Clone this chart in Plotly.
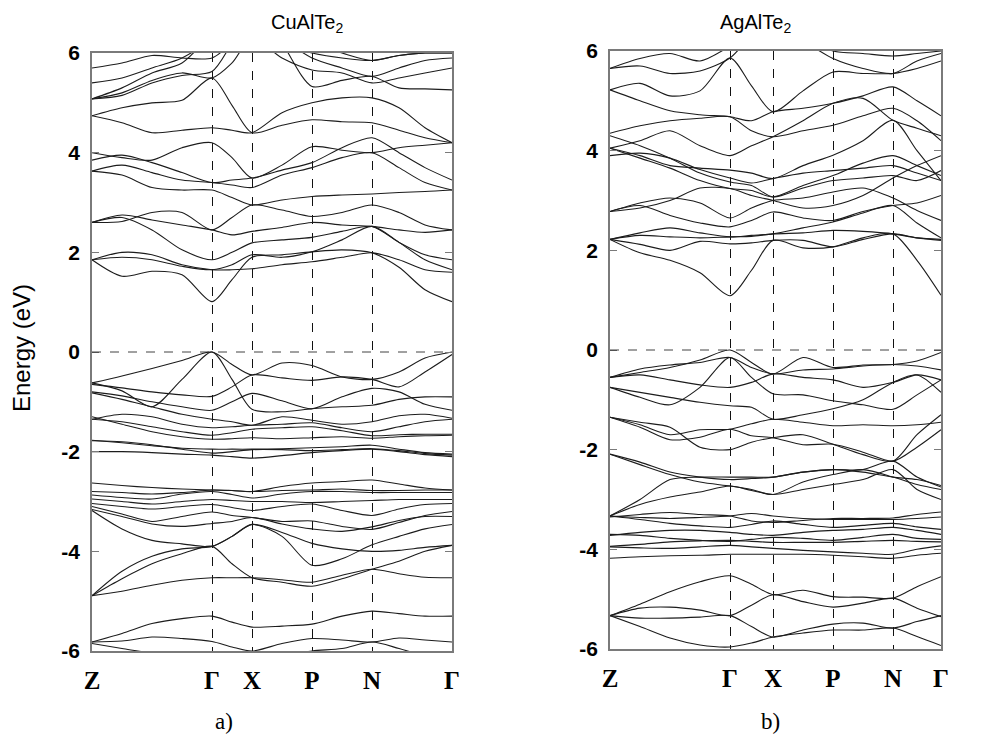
import plotly.graph_objects as go

# ---------------- data ----------------
KPOINT_LABELS = ["Z", "Γ", "X", "P", "N", "Γ"]
KPOINTS_LEFT = [0, 120, 160, 220, 280, 360]
KPOINTS_RIGHT = [0, 120, 163, 223, 283, 331]

K_LEFT = [0, 30, 60, 90, 120, 140, 160, 190, 220, 250, 280, 307, 333, 360]
K_RIGHT = [0, 30, 60, 90, 120, 141.5, 163, 193, 223, 253, 283, 307, 331]

ENERGY_TICKS = [-6, -4, -2, 0, 2, 4, 6]

CUALTE2_BANDS = [
    [-5.82, -5.65, -5.45, -5.35, -5.30, -5.42, -5.52, -5.50, -5.46, -5.30, -5.20, -5.25, -5.30, -5.30],
    [-5.82, -5.80, -5.72, -5.75, -5.81, -5.92, -6.00, -5.85, -5.75, -5.78, -5.82, -5.74, -5.78, -5.82],
    [-5.85, -5.95, -6.05, -6.20, -6.30, -6.30, -6.20, -6.10, -6.00, -5.95, -5.82, -5.95, -6.10, -6.20],
    [-4.89, -4.80, -4.68, -4.58, -4.53, -4.53, -4.53, -4.57, -4.62, -4.48, -4.36, -4.45, -4.52, -4.53],
    [-4.89, -4.55, -4.25, -4.05, -3.90, -4.25, -4.53, -4.62, -4.70, -4.55, -4.36, -4.20, -4.00, -3.88],
    [-4.89, -4.40, -4.10, -3.95, -3.90, -3.70, -3.46, -3.62, -3.84, -3.95, -4.00, -3.98, -3.92, -3.88],
    [-3.18, -3.55, -3.78, -3.85, -3.90, -3.70, -3.46, -3.70, -4.28, -4.15, -3.87, -3.70, -3.55, -3.46],
    [-3.16, -3.30, -3.45, -3.50, -3.44, -3.40, -3.32, -3.45, -3.55, -3.60, -3.51, -3.38, -3.30, -3.30],
    [-3.10, -3.25, -3.40, -3.30, -3.21, -3.28, -3.32, -3.40, -3.39, -3.50, -3.56, -3.42, -3.28, -3.20],
    [-3.04, -3.10, -3.15, -3.10, -3.06, -3.12, -3.18, -3.10, -3.05, -3.18, -3.28, -3.15, -3.06, -3.04],
    [-2.95, -3.00, -3.05, -3.00, -2.96, -2.98, -3.00, -3.00, -3.02, -3.00, -2.98, -2.96, -2.96, -2.96],
    [-2.87, -2.92, -2.95, -2.85, -2.80, -2.86, -2.93, -2.85, -2.80, -2.80, -2.82, -2.82, -2.82, -2.82],
    [-2.80, -2.82, -2.85, -2.82, -2.77, -2.78, -2.80, -2.78, -2.77, -2.75, -2.78, -2.78, -2.77, -2.77],
    [-2.63, -2.68, -2.72, -2.75, -2.77, -2.78, -2.80, -2.70, -2.63, -2.60, -2.57, -2.65, -2.73, -2.77],
    [-1.77, -1.82, -1.88, -1.93, -1.95, -1.95, -1.95, -1.94, -1.92, -1.90, -1.87, -1.95, -2.02, -2.05],
    [-2.00, -2.00, -2.02, -2.05, -2.07, -2.10, -2.13, -2.08, -2.02, -1.98, -1.95, -2.00, -2.06, -2.10],
    [-1.78, -1.80, -1.86, -1.95, -2.03, -2.00, -1.96, -1.96, -1.98, -1.96, -1.94, -1.98, -2.04, -2.07],
    [-0.62, -0.48, -0.33, -0.17, 0.00, -0.25, -0.46, -0.22, -0.27, -0.50, -0.55, -0.40, -0.12, 0.00],
    [-0.62, -0.78, -1.10, -0.55, 0.00, -0.55, -1.15, -1.20, -1.14, -1.10, -1.07, -0.95, -0.90, -0.90],
    [-0.65, -0.72, -0.80, -0.86, -0.89, -0.70, -0.46, -0.52, -0.57, -0.50, -0.55, -0.70, -0.40, -0.05],
    [-0.80, -0.88, -1.00, -1.10, -1.17, -1.00, -0.83, -0.98, -1.14, -0.90, -0.73, -0.80, -1.05, -1.17],
    [-0.82, -0.95, -1.10, -1.25, -1.35, -1.40, -1.47, -1.30, -1.37, -1.45, -1.40, -1.28, -1.25, -1.33],
    [-1.35, -1.25, -1.30, -1.45, -1.52, -1.50, -1.47, -1.45, -1.42, -1.52, -1.60, -1.50, -1.40, -1.35],
    [-1.35, -1.40, -1.50, -1.60, -1.67, -1.62, -1.55, -1.52, -1.50, -1.58, -1.68, -1.66, -1.65, -1.65],
    [-1.30, -1.45, -1.60, -1.70, -1.75, -1.74, -1.72, -1.74, -1.72, -1.70, -1.73, -1.70, -1.68, -1.67],
    [1.85, 1.52, 1.62, 1.55, 1.01, 1.45, 1.90, 1.95, 2.01, 2.05, 1.99, 1.70, 1.25, 1.01],
    [1.85, 2.00, 1.95, 1.75, 1.65, 1.65, 1.67, 1.75, 1.81, 1.90, 1.99, 1.85, 1.65, 1.60],
    [1.85, 1.90, 1.85, 1.72, 1.65, 1.75, 1.95, 1.90, 2.01, 2.25, 2.52, 2.20, 1.85, 1.65],
    [2.60, 2.70, 2.45, 2.05, 1.85, 2.00, 2.19, 2.25, 2.30, 2.42, 2.52, 2.20, 1.95, 1.85],
    [2.60, 2.75, 2.65, 2.55, 2.45, 2.35, 2.42, 2.50, 2.60, 2.55, 2.52, 2.45, 2.40, 2.45],
    [2.60, 2.62, 2.80, 2.80, 2.45, 2.70, 2.95, 2.85, 2.72, 2.80, 2.95, 2.80, 2.55, 2.45],
    [3.63, 3.55, 3.30, 3.25, 3.25, 3.10, 2.95, 3.05, 3.12, 3.15, 3.17, 3.20, 3.22, 3.25],
    [3.63, 3.75, 3.60, 3.45, 3.40, 3.35, 3.30, 3.55, 3.70, 3.90, 4.00, 3.70, 3.40, 3.25],
    [3.85, 3.95, 3.80, 3.60, 3.40, 3.45, 3.49, 3.65, 3.80, 4.10, 4.30, 4.00, 3.70, 3.45],
    [4.00, 3.90, 3.85, 4.10, 4.20, 3.90, 3.49, 3.75, 4.12, 4.05, 4.00, 4.10, 4.15, 4.20],
    [4.74, 4.60, 4.40, 4.45, 4.50, 4.45, 4.40, 4.80, 5.00, 5.10, 5.10, 4.90, 4.50, 4.20],
    [4.74, 4.90, 5.00, 5.05, 5.50, 4.95, 4.40, 4.55, 4.66, 4.62, 4.60, 4.45, 4.30, 4.20],
    [5.08, 5.15, 5.40, 5.55, 5.63, 6.20, 6.80, 6.30, 5.90, 5.70, 5.53, 5.70, 5.85, 5.90],
    [5.08, 5.30, 5.60, 5.80, 6.40, 6.80, 7.00, 6.60, 6.20, 6.00, 5.85, 5.95, 6.00, 6.00],
    [5.08, 5.20, 5.45, 5.60, 5.50, 5.80, 6.30, 5.90, 5.66, 5.60, 5.40, 5.50, 5.60, 5.70],
    [5.40, 5.50, 5.70, 5.90, 6.30, 6.80, 7.00, 6.20, 5.33, 5.45, 5.53, 5.30, 5.28, 5.26],
    [5.70, 5.80, 5.95, 5.90, 5.90, 6.20, 6.50, 6.20, 6.00, 5.90, 5.85, 5.95, 6.00, 6.00],
]

AGALTE2_BANDS = [
    [-5.33, -5.10, -4.85, -4.65, -4.53, -4.70, -4.91, -4.82, -4.95, -4.96, -4.98, -4.75, -4.55],
    [-5.33, -5.18, -5.16, -5.22, -5.33, -5.12, -4.91, -5.05, -5.16, -5.08, -4.98, -5.18, -5.35],
    [-5.33, -5.38, -5.38, -5.36, -5.33, -5.55, -5.76, -5.62, -5.50, -5.48, -5.58, -5.45, -5.33],
    [-5.33, -5.55, -5.78, -5.92, -5.96, -5.88, -5.76, -5.68, -5.62, -5.62, -5.58, -5.75, -5.93],
    [-4.18, -4.15, -4.13, -4.12, -4.10, -4.10, -4.10, -4.10, -4.12, -4.15, -4.18, -4.12, -4.08],
    [-3.95, -3.97, -3.98, -3.95, -3.92, -3.95, -3.98, -4.02, -4.05, -4.08, -4.10, -4.00, -3.93],
    [-3.94, -3.90, -3.85, -3.83, -3.82, -3.84, -3.86, -3.86, -3.86, -3.84, -3.82, -3.84, -3.85],
    [-3.70, -3.72, -3.78, -3.82, -3.84, -3.80, -3.76, -3.78, -3.82, -3.76, -3.70, -3.78, -3.80],
    [-3.72, -3.66, -3.62, -3.62, -3.66, -3.70, -3.72, -3.66, -3.62, -3.60, -3.56, -3.62, -3.70],
    [-3.33, -3.40, -3.48, -3.53, -3.56, -3.50, -3.43, -3.50, -3.56, -3.52, -3.48, -3.55, -3.60],
    [-3.33, -3.36, -3.38, -3.36, -3.33, -3.28, -3.33, -3.38, -3.40, -3.40, -3.40, -3.38, -3.35],
    [-3.35, -3.30, -3.26, -3.30, -3.33, -3.43, -3.46, -3.42, -3.38, -3.38, -3.37, -3.30, -3.25],
    [-3.33, -3.10, -2.95, -2.85, -2.73, -2.82, -2.90, -2.80, -2.70, -2.60, -2.40, -2.80, -3.00],
    [-3.33, -3.00, -2.60, -2.55, -2.55, -2.55, -2.55, -2.45, -2.40, -2.45, -2.55, -2.60, -2.72],
    [-2.09, -2.25, -2.45, -2.55, -2.60, -2.58, -2.55, -2.45, -2.40, -2.40, -2.23, -2.55, -2.75],
    [-2.09, -2.30, -2.50, -2.65, -2.73, -2.80, -2.90, -2.65, -2.50, -2.40, -2.55, -2.70, -2.80],
    [-0.55, -0.45, -0.35, -0.20, 0.00, -0.25, -0.48, -0.15, -0.35, -0.30, -0.29, -0.22, -0.05],
    [-0.55, -0.38, -0.30, -0.25, -0.15, -0.35, -0.48, -0.40, -0.38, -0.32, -0.29, -0.32, -0.40],
    [-0.55, -0.50, -0.60, -0.70, -0.75, -0.65, -0.48, -0.55, -0.60, -0.75, -0.65, -0.50, -0.60],
    [-0.75, -0.95, -1.10, -0.75, -0.15, -0.55, -0.88, -0.90, -1.02, -1.10, -1.19, -0.90, -0.60],
    [-0.75, -0.85, -0.95, -1.05, -1.12, -1.15, -1.39, -1.30, -1.18, -1.00, -0.65, -0.50, -0.85],
    [-1.35, -1.50, -1.70, -1.60, -1.59, -1.48, -1.39, -1.45, -1.52, -1.50, -1.52, -1.50, -1.45],
    [-1.35, -1.55, -1.80, -1.75, -1.59, -1.72, -1.76, -1.90, -1.89, -2.05, -2.23, -1.95, -1.60],
    [-1.35, -1.45, -1.55, -1.95, -2.00, -1.85, -1.76, -1.70, -1.89, -2.10, -2.23, -1.70, -1.30],
    [2.22, 1.95, 1.80, 1.55, 1.09, 1.60, 2.20, 2.05, 2.07, 2.25, 2.33, 1.80, 1.10],
    [2.22, 2.12, 2.00, 2.18, 2.13, 2.15, 2.20, 2.20, 2.07, 2.22, 2.33, 2.25, 2.20],
    [2.22, 2.30, 2.27, 2.25, 2.27, 2.28, 2.33, 2.35, 2.40, 2.38, 2.33, 2.25, 2.22],
    [2.22, 2.35, 2.45, 2.35, 2.27, 2.30, 2.33, 2.45, 2.57, 2.75, 2.90, 2.55, 2.25],
    [2.78, 2.90, 2.70, 2.55, 2.47, 2.60, 2.77, 2.65, 2.60, 2.78, 2.90, 2.95, 3.10],
    [2.78, 2.95, 3.05, 2.95, 2.65, 2.85, 3.00, 3.05, 3.17, 3.25, 3.05, 2.80, 2.60],
    [2.78, 2.85, 3.00, 3.25, 3.24, 3.10, 3.00, 2.85, 2.90, 3.10, 3.45, 3.70, 3.90],
    [4.05, 3.90, 3.70, 3.65, 3.61, 3.55, 3.44, 3.70, 3.91, 4.20, 4.61, 4.00, 3.40],
    [4.05, 3.85, 3.65, 3.40, 3.24, 3.20, 3.07, 3.30, 3.50, 3.75, 3.90, 3.70, 3.50],
    [4.30, 4.10, 3.85, 3.55, 3.37, 3.30, 3.07, 3.25, 3.40, 3.45, 3.50, 3.40, 3.60],
    [4.35, 4.50, 4.60, 4.65, 4.68, 4.40, 4.28, 4.40, 4.51, 4.70, 4.85, 4.60, 4.20],
    [5.22, 5.00, 4.80, 4.72, 4.68, 4.60, 4.78, 4.85, 4.95, 5.10, 5.28, 5.00, 4.70],
    [5.22, 5.35, 5.10, 5.20, 5.86, 5.30, 4.78, 5.20, 5.58, 5.55, 5.55, 5.65, 5.80],
    [5.65, 5.70, 5.55, 5.60, 5.86, 6.30, 6.50, 6.20, 5.85, 5.65, 5.55, 5.80, 5.95],
    [5.65, 5.85, 5.95, 5.80, 6.10, 6.40, 6.60, 6.30, 6.00, 5.95, 5.90, 5.95, 6.00],
    [4.05, 4.20, 4.40, 4.10, 3.90, 4.10, 4.28, 4.60, 4.95, 5.05, 4.61, 4.45, 4.30],
    [3.90, 3.95, 3.85, 3.62, 3.45, 3.35, 3.44, 3.55, 3.60, 3.65, 3.70, 3.55, 3.40],
]

TITLES = ["CuAlTe<sub>2</sub>", "AgAlTe<sub>2</sub>"]
PANEL_TAGS = ["a)", "b)"]

# ---------------- figure ----------------
# The page body has an 8px margin; the figure is sized to fit inside the window.
PAGE_MARGIN = 8
FW, FH = 985 - 2 * PAGE_MARGIN, 745 - 2 * PAGE_MARGIN


def fx(page_x):
    return (page_x - PAGE_MARGIN) / FW


def fy(page_y):
    return 1 - (page_y - PAGE_MARGIN) / FH


fig = go.Figure()

line_style = dict(color="#1c1c1c", width=1.1, shape="spline", smoothing=0.8)

for band in CUALTE2_BANDS:
    fig.add_trace(go.Scatter(x=K_LEFT, y=band, mode="lines", line=line_style,
                             xaxis="x", yaxis="y", showlegend=False, hoverinfo="skip"))
for band in AGALTE2_BANDS:
    fig.add_trace(go.Scatter(x=K_RIGHT, y=band, mode="lines", line=line_style,
                             xaxis="x2", yaxis="y2", showlegend=False, hoverinfo="skip"))


def xaxis_cfg(domain, kpts):
    return dict(domain=domain, range=[kpts[0], kpts[-1]], tickmode="array",
                tickvals=kpts, ticktext=KPOINT_LABELS, ticks="", automargin=False,
                ticklabelstandoff=6,
                showgrid=True, gridcolor="#111111", griddash="dash", gridwidth=0.8,
                showline=True, linecolor="#7a7a7a", linewidth=1.5, mirror=True,
                zeroline=False,
                tickfont=dict(family="Liberation Serif", size=25, color="black", weight="bold"))


def yaxis_cfg(domain, anchor):
    return dict(domain=domain, range=[-6, 6], anchor=anchor, tickmode="array",
                tickvals=ENERGY_TICKS, ticktext=[str(v) for v in ENERGY_TICKS],
                ticks="inside", ticklen=7, tickcolor="#7a7a7a", tickwidth=1.2,
                showgrid=False, zeroline=False, automargin=False, ticklabelstandoff=6,
                showline=True, linecolor="#7a7a7a", linewidth=1.5, mirror="ticks",
                tickfont=dict(family="Liberation Sans", size=21, color="black", weight="bold"))


fig.update_layout(
    width=FW, height=FH, margin=dict(l=0, r=0, t=0, b=0, autoexpand=False),
    paper_bgcolor="white", plot_bgcolor="white",
    xaxis=dict(**xaxis_cfg([fx(92), fx(452)], KPOINTS_LEFT), anchor="y"),
    yaxis=yaxis_cfg([fy(651), fy(53)], "x"),
    xaxis2=dict(**xaxis_cfg([fx(610), fx(941)], KPOINTS_RIGHT), anchor="y2"),
    yaxis2=yaxis_cfg([fy(649), fy(51)], "x2"),
)

# Fermi level (0 eV) dashed lines
for xa, ya in [("x", "y"), ("x2", "y2")]:
    fig.add_shape(type="line", xref=f"{xa} domain", yref=ya, x0=0, x1=1, y0=0, y1=0,
                  line=dict(color="#111111", width=0.8, dash="dash"))

title_font = dict(family="Liberation Sans", size=20, color="black")
fig.add_annotation(text=TITLES[0], x=fx(270), y=fy(23), xref="paper", yref="paper",
                   yanchor="middle", showarrow=False, font=title_font, borderpad=0)
fig.add_annotation(text=TITLES[1], x=fx(792), y=fy(24), xref="paper", yref="paper",
                   yanchor="middle", showarrow=False, font=title_font, borderpad=0)

tag_font = dict(family="Liberation Serif", size=23, color="black")
fig.add_annotation(text=PANEL_TAGS[0], x=fx(214), y=fy(721), xref="paper", yref="paper",
                   yanchor="middle", showarrow=False, font=tag_font, borderpad=0)
fig.add_annotation(text=PANEL_TAGS[1], x=fx(781), y=fy(721), xref="paper", yref="paper",
                   yanchor="middle", showarrow=False, font=tag_font, borderpad=0)

fig.add_annotation(text="Energy (eV)", x=fx(22), y=fy(348), xref="paper", yref="paper",
                   yanchor="middle", xanchor="center", showarrow=False, textangle=-90,
                   font=dict(family="Liberation Sans", size=24, color="black"))

fig.write_html("out.html")
